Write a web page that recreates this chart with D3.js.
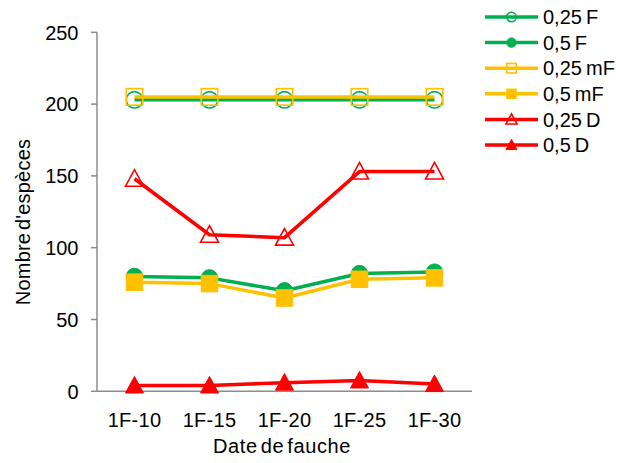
<!DOCTYPE html>
<html><head><meta charset="utf-8">
<script src="https://cdn.jsdelivr.net/npm/d3@7"></script>
<style>body{margin:0;background:#fff}svg{display:block;font-family:"Liberation Sans",Arial,sans-serif}</style>
</head><body><svg id="c" width="619" height="463"></svg>
<script>
const categories = ["1F-10","1F-15","1F-20","1F-25","1F-30"];
const yTicks = [0,50,100,150,200,250];
const seriesNames = ["0,25 F","0,5 F","0,25 mF","0,5 mF","0,25 D","0,5 D"];
const v025F = [203,203,203,203,203];
const v05F = [80,79,70,82,83];
const v025mF = [205,205,205,205,205];
const v05mF = [76,75,65,78,79];
const v025D = [148,109,107,153,153];
const v05D = [4,4,6,7.5,5];
const seriesValues = [v025F,v05F,v025mF,v05mF,v025D,v05D];
const seriesColors = ["#00b050","#00b050","#ffc000","#ffc000","#ff0000","#ff0000"];
const seriesShapes = ["circle","circle","square","square","triangle","triangle"];
const seriesFilled = [false,true,false,true,false,true];

const svg = d3.select("#c");
const x = d3.scalePoint().domain(categories).range([97,472]).padding(0.5);
const y = d3.scaleLinear().domain([0,250]).range([391.3,32.3]);

// axes
const ax = svg.append("g");
ax.append("line").attr("x1",x.range()[0]).attr("x2",x.range()[1]).attr("y1",y(0)).attr("y2",y(0)).attr("stroke","#8c8c8c").attr("stroke-width",1.5);
ax.append("line").attr("x1",97).attr("x2",97).attr("y1",y(0)).attr("y2",y(250)).attr("stroke","#8c8c8c").attr("stroke-width",1.5);
yTicks.forEach(t=>{
  ax.append("line").attr("x1",91).attr("x2",97).attr("y1",y(t)).attr("y2",y(t)).attr("stroke","#8c8c8c").attr("stroke-width",1.5);
  ax.append("text").attr("x",78.5).attr("y",y(t)).attr("dy","0.36em").attr("text-anchor","end").attr("font-size",20).attr("fill","#000").text(t);
});
categories.forEach(c=>{
  ax.append("text").attr("x",x(c)).attr("y",426.5).attr("text-anchor","middle").attr("font-size",20).attr("letter-spacing","0.3").attr("fill","#000").text(c);
});
svg.append("text").attr("x",282).attr("y",453).attr("text-anchor","middle").attr("font-size",20).attr("letter-spacing","0.6").attr("word-spacing","-3").text("Date de fauche");
svg.append("text").attr("transform","translate(30,222) rotate(-90)").attr("text-anchor","middle").attr("font-size",20).attr("word-spacing","-3").attr("letter-spacing","0.2").text("Nombre d'espèces");

function marker(g, shape, cx, cy, size, color, filled){
  let el;
  if(shape==="circle"){
    el = g.append("circle").attr("cx",cx).attr("cy",cy).attr("r",size/2-0.8);
  } else if(shape==="square"){
    const s=size-1.5;
    el = g.append("rect").attr("x",cx-s/2).attr("y",cy-s/2).attr("width",s).attr("height",s);
  } else {
    const w=size, h=size*0.92;
    el = g.append("path").attr("d",`M${cx},${cy-h*0.55}L${cx+w/2},${cy+h*0.45}L${cx-w/2},${cy+h*0.45}Z`);
  }
  el.attr("fill",filled?color:"none").attr("stroke",color).attr("stroke-width",filled?1:1.6);
}

const line = d3.line().x((d,i)=>x(categories[i])).y(d=>y(d));
const plot = svg.append("g");
seriesValues.forEach((vals,k)=>{
  const g = plot.append("g");
  g.append("path").attr("d",line(vals)).attr("fill","none").attr("stroke",seriesColors[k]).attr("stroke-width",3.5).attr("stroke-linejoin","round");
  vals.forEach((v,i)=>marker(g,seriesShapes[k],x(categories[i]),y(v),18,seriesColors[k],seriesFilled[k]));
});

// legend
const leg = svg.append("g");
seriesNames.forEach((n,k)=>{
  const yy = 17 + k*25.6;
  leg.append("line").attr("x1",485).attr("x2",538).attr("y1",yy).attr("y2",yy).attr("stroke",seriesColors[k]).attr("stroke-width",3.5);
  marker(leg,seriesShapes[k],511.5,yy,11,seriesColors[k],seriesFilled[k]);
  leg.append("text").attr("x",543).attr("y",yy).attr("dy","0.36em").attr("font-size",20).attr("word-spacing","-1.5").text(n);
});
</script></body></html>
